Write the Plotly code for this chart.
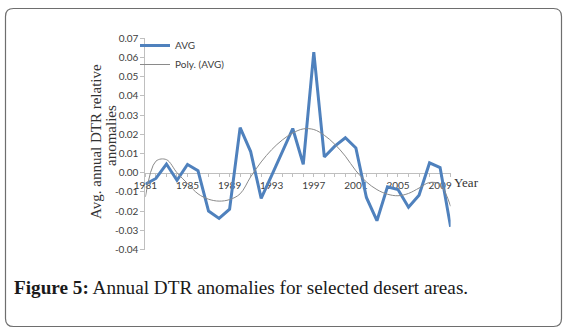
import plotly.graph_objects as go

W, H = 567, 334

years = list(range(1981, 2011))
avg = [-0.006, -0.003, 0.0045, -0.004, 0.0043, 0.001, -0.020, -0.0238, -0.019, 0.0235,
       0.011, -0.0134, -0.0014, 0.0105, 0.023, 0.0044, 0.0628, 0.0082, 0.0138, 0.0182,
       0.0129, -0.0129, -0.025, -0.0074, -0.0088, -0.018, -0.0117, 0.0051, 0.0027, -0.0282]
poly = [-0.0126, 0.006, 0.0068, 0.0, -0.0056, -0.011, -0.0138, -0.0148, -0.014, -0.011,
        -0.0022, 0.0056, 0.012, 0.017, 0.0207, 0.0228, 0.0225, 0.0195, 0.0148, 0.0086,
        0.001, -0.0048, -0.0088, -0.0112, -0.012, -0.0108, -0.008, -0.0051, -0.0062, -0.0175]

x_label_years = [1981, 1985, 1989, 1993, 1997, 2001, 2005, 2009]
y_ticks = [0.07, 0.06, 0.05, 0.04, 0.03, 0.02, 0.01, 0.0, -0.01, -0.02, -0.03, -0.04]
y_ticktext = ["%.2f" % v if v >= 0 else "-%.2f" % abs(v) for v in y_ticks]

# layout geometry (pixels)
x_left, x_right = 145.4, 450.6
y_top, y_bot = 38.3, 249.5
y_min, y_max = -0.04, 0.07
y_zero_px = y_top + (y_max - 0) / (y_max - y_min) * (y_bot - y_top)

def px(x):
    return x / W

def py(y):
    return 1 - y / H

fig = go.Figure()
fig.add_trace(go.Scatter(x=years, y=avg, mode="lines", name="AVG",
                         line=dict(color="#4f81bd", width=3)))
fig.add_trace(go.Scatter(x=years, y=poly, mode="lines", name="Poly. (AVG)",
                         line=dict(color="#8a8a8a", width=1, shape="spline", smoothing=1.0)))

tick_font = dict(family="Lato, Liberation Sans, sans-serif", size=10, color="#404040")

fig.update_layout(
    width=W, height=H,
    margin=dict(l=0, r=0, t=0, b=0, autoexpand=False),
    paper_bgcolor="white", plot_bgcolor="rgba(0,0,0,0)",
    showlegend=True,
    legend=dict(x=px(135), y=py(31), xanchor="left", yanchor="top",
                font=dict(family="Lato, Liberation Sans, sans-serif", size=10, color="#404040"),
                bgcolor="rgba(0,0,0,0)", traceorder="normal", itemwidth=30),
    xaxis=dict(domain=[px(x_left), px(x_right)], range=[1981, 2010],
               anchor="free", position=py(y_zero_px),
               showline=True, linecolor="#bfbfbf", linewidth=1,
               showgrid=False, zeroline=False,
               tickmode="array", tickvals=years,
               ticktext=[str(y) if y in x_label_years else "" for y in years],
               ticks="outside", ticklen=3, tickcolor="#bfbfbf",
               tickfont=tick_font, layer="below traces", automargin=False),
    yaxis=dict(domain=[py(y_bot), py(y_top)], range=[y_min, y_max],
               showline=True, linecolor="#bfbfbf", linewidth=1,
               showgrid=False, zeroline=False,
               tickmode="array", tickvals=y_ticks, ticktext=y_ticktext,
               ticks="outside", ticklen=4, tickcolor="#bfbfbf",
               tickfont=tick_font, layer="below traces", automargin=False),
)

serif = "Liberation Serif, Times New Roman, serif"

fig.add_annotation(text="Avg. annual DTR relative", xref="paper", yref="paper",
                   x=px(96), y=py(142), textangle=-90, showarrow=False,
                   font=dict(family=serif, size=15, color="#333333"),
                   xanchor="center", yanchor="middle")
fig.add_annotation(text="anomalies", xref="paper", yref="paper",
                   x=px(111), y=py(136), textangle=-90, showarrow=False,
                   font=dict(family=serif, size=15, color="#333333"),
                   xanchor="center", yanchor="middle")
fig.add_annotation(text="Year", xref="paper", yref="paper",
                   x=px(452), y=py(182), showarrow=False,
                   font=dict(family=serif, size=13, color="#333333"),
                   xanchor="left", yanchor="middle")
fig.add_annotation(text="<b>Figure 5:</b> Annual DTR anomalies for selected desert areas.",
                   xref="paper", yref="paper", x=px(12), y=py(287), showarrow=False,
                   font=dict(family=serif, size=19.2, color="#1a1a1a"),
                   xanchor="left", yanchor="middle")

# rounded border box
x0, x1, y0, y1, r = 5.5, 561.5, 8.5, 326.5, 8
path = (f"M {px(x0 + r)},{py(y0)} L {px(x1 - r)},{py(y0)} "
        f"Q {px(x1)},{py(y0)} {px(x1)},{py(y0 + r)} "
        f"L {px(x1)},{py(y1 - r)} Q {px(x1)},{py(y1)} {px(x1 - r)},{py(y1)} "
        f"L {px(x0 + r)},{py(y1)} Q {px(x0)},{py(y1)} {px(x0)},{py(y1 - r)} "
        f"L {px(x0)},{py(y0 + r)} Q {px(x0)},{py(y0)} {px(x0 + r)},{py(y0)} Z")
fig.add_shape(type="path", path=path, xref="paper", yref="paper",
              line=dict(color="#6e6e6e", width=1.2))

fig.write_html("out.html")
